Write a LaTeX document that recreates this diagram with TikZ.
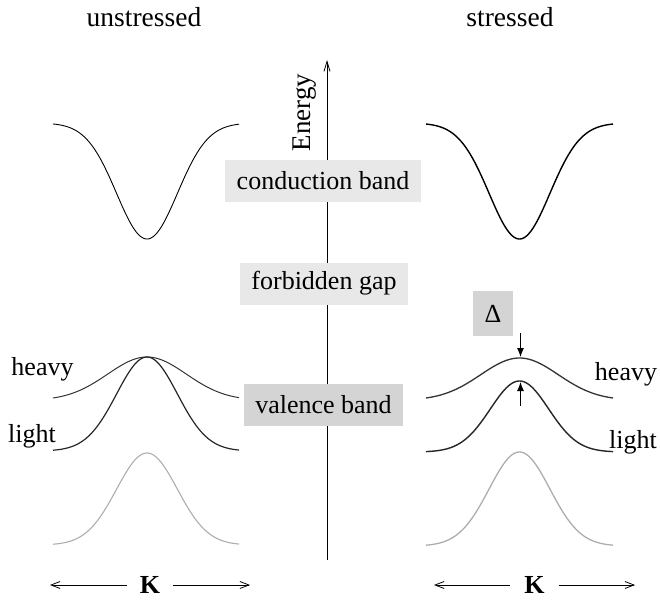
\documentclass[tikz,border=0pt]{standalone}
\usepackage{fontspec}
\setmainfont{Liberation Serif}
\usetikzlibrary{arrows.meta}
\begin{document}
\begin{tikzpicture}[x=1pt,y=-1pt,
  lbl/.style={font=\fontsize{26}{30}\selectfont, inner sep=0pt, anchor=base},
  bandbox/.style={font=\fontsize{26}{30}\selectfont, inner sep=0pt, minimum height=42pt},
  thinband/.style={line width=0.9pt},
  thickband/.style={line width=1.4pt},
  grayband/.style={line width=1.1pt, color=black!32},
  karr/.style={line width=0.8pt, -{Straight Barb[length=9pt,width=7pt]}},
  darr/.style={line width=1.1pt, -{Latex[length=9pt,width=7pt]}}]
\useasboundingbox (0,0) rectangle (660,599);

% titles
\node[lbl, font=\fontsize{27.5}{30}\selectfont] (unst) at (144,27) {unstressed};
\node[lbl, font=\fontsize{27.5}{30}\selectfont] (str) at (510,27) {stressed};

% energy axis
\coordinate (axb) at (327,560);
\coordinate (axt) at (327,60);
\draw[line width=0.8pt, -{Straight Barb[length=10pt,width=6pt]}] (axb) -- (axt);
\node[lbl, rotate=90, font=\fontsize{27}{30}\selectfont] (energy) at (310,112.5) {Energy};

% band labels
\node[bandbox, fill=black!9, minimum width=196pt] (cb) at (323,181) {conduction band};
\node[bandbox, fill=black!9, minimum width=168pt] (fg) at (324,283.5) {forbidden gap};
\node[bandbox, fill=black!17, minimum width=159pt] (vb) at (323.5,405) {valence band};

% left (unstressed) bands
\draw[thinband] plot[domain=53:239, samples=120] (\x, {123 + 116*exp(-(\x-147)*(\x-147)/1850)});
\draw[thinband, color=black!80, line width=1pt] plot[domain=53:239, samples=120] (\x, {357 + 41*(1-exp(-(\x-147)*(\x-147)/3100))/(1-exp(-8836/3100))});
\draw[thinband, color=black!85, line width=1.2pt] plot[domain=53:239, samples=120] (\x, {357 + 94*(1-exp(-(\x-147)*(\x-147)/1850))});
\draw[grayband] plot[domain=53:239, samples=120] (\x, {453 + 92*(1-exp(-(\x-147)*(\x-147)/1850))});
\node[lbl] (heavyL) at (42.5,375) {heavy};
\node[lbl] (lightL) at (32,442) {light};

% right (stressed) bands
\draw[thickband] plot[domain=426:613, samples=120] (\x, {123 + 116*exp(-(\x-519.5)*(\x-519.5)/1850)});
\draw[thinband, color=black!80, line width=1.3pt] plot[domain=426:613, samples=120] (\x, {358 + 40*(1-exp(-(\x-519.5)*(\x-519.5)/3000))/(1-exp(-8742/3000))});
\draw[thickband, color=black!85] plot[domain=426:613, samples=120] (\x, {381 + 71*(1-exp(-(\x-519.5)*(\x-519.5)/1700))});
\draw[grayband, line width=1.3pt] plot[domain=426:613, samples=120] (\x, {452 + 94*(1-exp(-(\x-519.5)*(\x-519.5)/1850))});
\node[lbl] (heavyR) at (626,380) {heavy};
\node[lbl] (lightR) at (633,448) {light};

% Delta splitting
\node[bandbox, fill=black!17, minimum width=40pt, minimum height=45pt] (delta) at (493,313.5) {Δ};
\coordinate (hpk) at (520.5,357);
\coordinate (lpk) at (520.5,382);
\coordinate (dtop) at (520.5,333);
\coordinate (dbot) at (520.5,406);
\draw[darr] (dtop) -- (hpk);
\draw[darr] (dbot) -- (lpk);

% K axes
\node[lbl, font=\fontsize{26}{30}\selectfont\bfseries] (kL) at (150,593.5) {K};
\node[lbl, font=\fontsize{26}{30}\selectfont\bfseries] (kR) at (534.5,593.5) {K};
\coordinate (kl1) at (50,585);
\coordinate (kl2) at (250,585);
\coordinate (kr1) at (434,585);
\coordinate (kr2) at (635,585);
\draw[karr] ([xshift=-13pt]kL.west) -- (kl1 |- kL.west);
\draw[karr] ([xshift=13pt]kL.east) -- (kl2 |- kL.east);
\draw[karr] ([xshift=-14pt]kR.west) -- (kr1 |- kR.west);
\draw[karr] ([xshift=14pt]kR.east) -- (kr2 |- kR.east);
\end{tikzpicture}
\end{document}
